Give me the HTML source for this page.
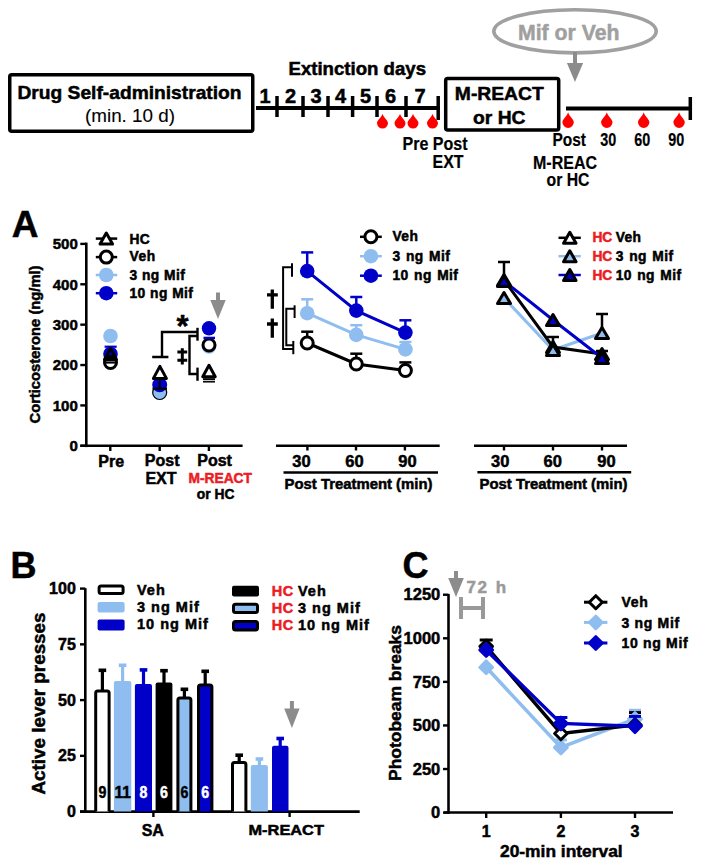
<!DOCTYPE html>
<html><head><meta charset="utf-8"><style>
html,body{margin:0;padding:0;background:#fff;width:701px;height:866px;overflow:hidden}
svg{display:block}
text{font-family:"Liberation Sans",sans-serif}
</style></head><body>
<svg width="701" height="866" viewBox="0 0 701 866">
<rect x="9.75" y="74.75" width="243" height="56.5" rx="2" fill="none" stroke="#000" stroke-width="3.5"/>
<text x="17.5" y="99" font-size="19" font-weight="bold" fill="#000" stroke="#000" stroke-width="0.5" text-anchor="start" textLength="224" lengthAdjust="spacingAndGlyphs" >Drug Self-administration</text>
<text x="85" y="122.4" font-size="18.7" font-weight="normal" fill="#000" stroke="#000" stroke-width="0.1" text-anchor="start" textLength="90" lengthAdjust="spacingAndGlyphs" >(min. 10 d)</text>
<text x="288.5" y="75" font-size="17.5" font-weight="bold" fill="#000" stroke="#000" stroke-width="0.5" text-anchor="start" textLength="137.5" lengthAdjust="spacingAndGlyphs" >Extinction days</text>
<line x1="256" y1="108" x2="440" y2="108" stroke="#000" stroke-width="4" stroke-linecap="butt"/>
<line x1="277" y1="96" x2="277" y2="117" stroke="#000" stroke-width="3.5" stroke-linecap="butt"/>
<line x1="303" y1="96" x2="303" y2="117" stroke="#000" stroke-width="3.5" stroke-linecap="butt"/>
<line x1="328" y1="96" x2="328" y2="117" stroke="#000" stroke-width="3.5" stroke-linecap="butt"/>
<line x1="352.6" y1="96" x2="352.6" y2="117" stroke="#000" stroke-width="3.5" stroke-linecap="butt"/>
<line x1="377" y1="96" x2="377" y2="117" stroke="#000" stroke-width="3.5" stroke-linecap="butt"/>
<line x1="406" y1="96" x2="406" y2="117" stroke="#000" stroke-width="3.5" stroke-linecap="butt"/>
<line x1="438.2" y1="96" x2="438.2" y2="120" stroke="#000" stroke-width="3.5" stroke-linecap="butt"/>
<text x="265" y="103.3" font-size="20" font-weight="bold" fill="#000" stroke="#000" stroke-width="0.5" text-anchor="middle" >1</text>
<text x="290.6" y="103.3" font-size="20" font-weight="bold" fill="#000" stroke="#000" stroke-width="0.5" text-anchor="middle" >2</text>
<text x="316" y="103.3" font-size="20" font-weight="bold" fill="#000" stroke="#000" stroke-width="0.5" text-anchor="middle" >3</text>
<text x="340.5" y="103.3" font-size="20" font-weight="bold" fill="#000" stroke="#000" stroke-width="0.5" text-anchor="middle" >4</text>
<text x="365.6" y="103.3" font-size="20" font-weight="bold" fill="#000" stroke="#000" stroke-width="0.5" text-anchor="middle" >5</text>
<text x="390.5" y="103.3" font-size="20" font-weight="bold" fill="#000" stroke="#000" stroke-width="0.5" text-anchor="middle" >6</text>
<text x="420" y="103.3" font-size="20" font-weight="bold" fill="#000" stroke="#000" stroke-width="0.5" text-anchor="middle" >7</text>
<path d="M382.5,113.7 C383.3,117.2 388.0,120.2 388.0,123.0 A5.5,5.5 0 0 1 377.0,123.0 C377.0,120.2 381.7,117.2 382.5,113.7 Z" fill="#ff0000"/>
<path d="M400,113.7 C400.8,117.2 405.5,120.2 405.5,123.0 A5.5,5.5 0 0 1 394.5,123.0 C394.5,120.2 399.2,117.2 400,113.7 Z" fill="#ff0000"/>
<path d="M413,113.7 C413.8,117.2 418.5,120.2 418.5,123.0 A5.5,5.5 0 0 1 407.5,123.0 C407.5,120.2 412.2,117.2 413,113.7 Z" fill="#ff0000"/>
<path d="M432.5,113.7 C433.3,117.2 438.0,120.2 438.0,123.0 A5.5,5.5 0 0 1 427.0,123.0 C427.0,120.2 431.7,117.2 432.5,113.7 Z" fill="#ff0000"/>
<text x="402.5" y="150" font-size="17.5" font-weight="bold" fill="#000" stroke="#000" stroke-width="0.2" text-anchor="start" textLength="65" lengthAdjust="spacingAndGlyphs" >Pre Post</text>
<text x="432.5" y="168" font-size="17.5" font-weight="bold" fill="#000" stroke="#000" stroke-width="0.2" text-anchor="start" textLength="31" lengthAdjust="spacingAndGlyphs" >EXT</text>
<rect x="445.7" y="78.5" width="113" height="51.5" rx="2" fill="none" stroke="#000" stroke-width="3.5"/>
<text x="454.8" y="100.3" font-size="19" font-weight="bold" fill="#000" stroke="#000" stroke-width="0.5" text-anchor="start" textLength="89" lengthAdjust="spacingAndGlyphs" >M-REACT</text>
<text x="473" y="123.8" font-size="19" font-weight="bold" fill="#000" stroke="#000" stroke-width="0.5" text-anchor="start" textLength="52.5" lengthAdjust="spacingAndGlyphs" >or HC</text>
<ellipse cx="575" cy="31.3" rx="81.2" ry="21.6" fill="none" stroke="#a0a0a0" stroke-width="3.6"/>
<text x="518" y="40" font-size="22" font-weight="bold" fill="#a0a0a0" stroke="#a0a0a0" stroke-width="0.5" text-anchor="start" textLength="101.5" lengthAdjust="spacingAndGlyphs" >Mif or Veh</text>
<rect x="573.0" y="52" width="4" height="11.5" fill="#8c8c8c"/>
<path d="M566.9,63 L583.1,63 L575,82 Z" fill="#8c8c8c"/>
<line x1="566" y1="108.5" x2="692" y2="108.5" stroke="#000" stroke-width="4" stroke-linecap="butt"/>
<line x1="690.3" y1="97" x2="690.3" y2="120" stroke="#000" stroke-width="3.5" stroke-linecap="butt"/>
<path d="M568.0999999999999,112.3 C568.8999999999999,115.8 573.8,119.4 573.8,122.2 A5.7,5.7 0 0 1 562.3999999999999,122.2 C562.3999999999999,119.4 567.3,115.8 568.0999999999999,112.3 Z" fill="#ff0000"/>
<path d="M606.8,112.3 C607.5999999999999,115.8 612.5,119.4 612.5,122.2 A5.7,5.7 0 0 1 601.0999999999999,122.2 C601.0999999999999,119.4 606.0,115.8 606.8,112.3 Z" fill="#ff0000"/>
<path d="M643.6999999999999,112.3 C644.4999999999999,115.8 649.4,119.4 649.4,122.2 A5.7,5.7 0 0 1 637.9999999999999,122.2 C637.9999999999999,119.4 642.9,115.8 643.6999999999999,112.3 Z" fill="#ff0000"/>
<path d="M679.0999999999999,112.3 C679.8999999999999,115.8 684.8,119.4 684.8,122.2 A5.7,5.7 0 0 1 673.3999999999999,122.2 C673.3999999999999,119.4 678.3,115.8 679.0999999999999,112.3 Z" fill="#ff0000"/>
<text x="552.5" y="146.3" font-size="17.5" font-weight="bold" fill="#000" stroke="#000" stroke-width="0.2" text-anchor="start" textLength="33.5" lengthAdjust="spacingAndGlyphs" >Post</text>
<text x="608.2" y="146.3" font-size="17.5" font-weight="bold" fill="#000" stroke="#000" stroke-width="0.2" text-anchor="middle" textLength="16" lengthAdjust="spacingAndGlyphs" >30</text>
<text x="642.2" y="146.3" font-size="17.5" font-weight="bold" fill="#000" stroke="#000" stroke-width="0.2" text-anchor="middle" textLength="16" lengthAdjust="spacingAndGlyphs" >60</text>
<text x="676.2" y="146.3" font-size="17.5" font-weight="bold" fill="#000" stroke="#000" stroke-width="0.2" text-anchor="middle" textLength="16" lengthAdjust="spacingAndGlyphs" >90</text>
<text x="533" y="169.1" font-size="17.5" font-weight="bold" fill="#000" stroke="#000" stroke-width="0.2" text-anchor="start" textLength="64" lengthAdjust="spacingAndGlyphs" >M-REAC</text>
<text x="546.5" y="185.6" font-size="17.5" font-weight="bold" fill="#000" stroke="#000" stroke-width="0.2" text-anchor="start" textLength="43" lengthAdjust="spacingAndGlyphs" >or HC</text>
<text x="11.8" y="237.4" font-size="37" font-weight="bold" fill="#000" stroke="#000" stroke-width="0.5" text-anchor="start" >A</text>
<line x1="86.3" y1="242.6" x2="86.3" y2="447.1" stroke="#000" stroke-width="2.6" stroke-linecap="butt"/>
<line x1="80.3" y1="445.8" x2="86.3" y2="445.8" stroke="#000" stroke-width="2.4" stroke-linecap="butt"/>
<text x="77.8" y="451.1" font-size="15" font-weight="bold" fill="#000" stroke="#000" stroke-width="0.5" text-anchor="end" >0</text>
<line x1="80.3" y1="405.42" x2="86.3" y2="405.42" stroke="#000" stroke-width="2.4" stroke-linecap="butt"/>
<text x="77.8" y="410.72" font-size="15" font-weight="bold" fill="#000" stroke="#000" stroke-width="0.5" text-anchor="end" >100</text>
<line x1="80.3" y1="365.04" x2="86.3" y2="365.04" stroke="#000" stroke-width="2.4" stroke-linecap="butt"/>
<text x="77.8" y="370.34000000000003" font-size="15" font-weight="bold" fill="#000" stroke="#000" stroke-width="0.5" text-anchor="end" >200</text>
<line x1="80.3" y1="324.66" x2="86.3" y2="324.66" stroke="#000" stroke-width="2.4" stroke-linecap="butt"/>
<text x="77.8" y="329.96000000000004" font-size="15" font-weight="bold" fill="#000" stroke="#000" stroke-width="0.5" text-anchor="end" >300</text>
<line x1="80.3" y1="284.28" x2="86.3" y2="284.28" stroke="#000" stroke-width="2.4" stroke-linecap="butt"/>
<text x="77.8" y="289.58" font-size="15" font-weight="bold" fill="#000" stroke="#000" stroke-width="0.5" text-anchor="end" >400</text>
<line x1="80.3" y1="243.9" x2="86.3" y2="243.9" stroke="#000" stroke-width="2.4" stroke-linecap="butt"/>
<text x="77.8" y="249.20000000000002" font-size="15" font-weight="bold" fill="#000" stroke="#000" stroke-width="0.5" text-anchor="end" >500</text>
<text x="40.3" y="423.5" font-size="14.7" font-weight="bold" fill="#000" stroke="#000" stroke-width="0.5" text-anchor="start" textLength="158" lengthAdjust="spacingAndGlyphs" transform="rotate(-90 40.3 423.5)">Corticosterone (ng/ml)</text>
<line x1="80.3" y1="445.8" x2="242.6" y2="445.8" stroke="#000" stroke-width="2.6" stroke-linecap="butt"/>
<line x1="110.3" y1="445.8" x2="110.3" y2="451" stroke="#000" stroke-width="2.4" stroke-linecap="butt"/>
<line x1="159.7" y1="445.8" x2="159.7" y2="451" stroke="#000" stroke-width="2.4" stroke-linecap="butt"/>
<line x1="208.9" y1="445.8" x2="208.9" y2="451" stroke="#000" stroke-width="2.4" stroke-linecap="butt"/>
<text x="111.2" y="466.7" font-size="16" font-weight="bold" fill="#000" stroke="#000" stroke-width="0.5" text-anchor="middle" >Pre</text>
<text x="162.2" y="466.2" font-size="16" font-weight="bold" fill="#000" stroke="#000" stroke-width="0.5" text-anchor="middle" >Post</text>
<text x="161" y="484.2" font-size="16" font-weight="bold" fill="#000" stroke="#000" stroke-width="0.5" text-anchor="middle" >EXT</text>
<text x="214.6" y="465.8" font-size="16" font-weight="bold" fill="#000" stroke="#000" stroke-width="0.5" text-anchor="middle" >Post</text>
<text x="220.2" y="482.8" font-size="13.8" font-weight="bold" fill="#ec1c24" stroke="#ec1c24" stroke-width="0.5" text-anchor="middle" >M-REACT</text>
<text x="215.6" y="498.5" font-size="13.8" font-weight="bold" fill="#000" stroke="#000" stroke-width="0.5" text-anchor="middle" >or HC</text>
<line x1="95.8" y1="238.6" x2="117.2" y2="238.6" stroke="#000" stroke-width="2.5" stroke-linecap="butt"/>
<path d="M106.3,233.1 L112.55,244.1 L100.05,244.1 Z" fill="#fff" stroke="#000" stroke-width="3" stroke-linejoin="round"/>
<text x="129.5" y="243.5" font-size="13.8" font-weight="bold" fill="#000" stroke="#000" stroke-width="0.5" letter-spacing="0.4" word-spacing="0.2">HC</text>
<line x1="95.8" y1="257.1" x2="117.2" y2="257.1" stroke="#000" stroke-width="2.5" stroke-linecap="butt"/>
<circle cx="106.3" cy="257.1" r="6" fill="#fff" stroke="#000" stroke-width="3"/>
<text x="129.5" y="261.4" font-size="13.8" font-weight="bold" fill="#000" stroke="#000" stroke-width="0.5" letter-spacing="0.55" word-spacing="1.2">Veh</text>
<line x1="95.8" y1="275" x2="117.2" y2="275" stroke="#8fbdf0" stroke-width="2.5" stroke-linecap="butt"/>
<circle cx="106.3" cy="275" r="7.3" fill="#8fbdf0"/>
<text x="129.5" y="279.7" font-size="13.8" font-weight="bold" fill="#000" stroke="#000" stroke-width="0.5" letter-spacing="0.4" word-spacing="0.2">3 ng Mif</text>
<line x1="95.8" y1="293.2" x2="117.2" y2="293.2" stroke="#0000c8" stroke-width="2.5" stroke-linecap="butt"/>
<circle cx="106.3" cy="293.2" r="7.3" fill="#0000c8"/>
<text x="129.5" y="297.6" font-size="13.8" font-weight="bold" fill="#000" stroke="#000" stroke-width="0.5" letter-spacing="0.4" word-spacing="0.2">10 ng Mif</text>
<circle cx="110.5" cy="336" r="7.3" fill="#8fbdf0"/>
<line x1="104.6" y1="346.7" x2="116.7" y2="346.7" stroke="#0000c8" stroke-width="2.2" stroke-linecap="butt"/>
<circle cx="110.5" cy="354" r="7.3" fill="#0000c8"/>
<circle cx="110.5" cy="362.5" r="6" fill="#fff" stroke="#000" stroke-width="3"/>
<line x1="104.6" y1="362.5" x2="116.7" y2="362.5" stroke="#000" stroke-width="2.2" stroke-linecap="butt"/>
<path d="M110.5,348.5 L116.5,359.5 L104.5,359.5 Z" fill="none" stroke="#000" stroke-width="3" stroke-linejoin="round"/>
<circle cx="159.7" cy="392.8" r="7.3" fill="#8fbdf0"/>
<circle cx="159.7" cy="392.5" r="7.0" fill="none" stroke="#000" stroke-width="1.2"/>
<circle cx="159.7" cy="384.7" r="7.5" fill="#0000c8"/>
<line x1="152.5" y1="388.7" x2="167" y2="388.7" stroke="#000" stroke-width="2.2" stroke-linecap="butt"/>
<line x1="159.7" y1="378" x2="159.7" y2="388.7" stroke="#000" stroke-width="2" stroke-linecap="butt"/>
<path d="M159.9,366.4 L166.4,378.4 L153.4,378.4 Z" fill="#fff" stroke="#000" stroke-width="3" stroke-linejoin="round"/>
<circle cx="209" cy="346.5" r="7.3" fill="#8fbdf0"/>
<circle cx="209" cy="345" r="6" fill="#fff" stroke="#000" stroke-width="3"/>
<line x1="203.5" y1="337.9" x2="215" y2="337.9" stroke="#0000c8" stroke-width="2.4" stroke-linecap="butt"/>
<circle cx="209" cy="328.3" r="7.2" fill="#0000c8"/>
<path d="M209,365.25 L215.25,376.75 L202.75,376.75 Z" fill="#fff" stroke="#000" stroke-width="3" stroke-linejoin="round"/>
<line x1="203" y1="379.2" x2="215" y2="379.2" stroke="#000" stroke-width="2" stroke-linecap="butt"/>
<line x1="203" y1="381.8" x2="215" y2="381.8" stroke="#000" stroke-width="1.5" stroke-linecap="butt"/>
<path d="M152.2,357 H168.4 M162,357 V332 H197.5" stroke="#000" stroke-width="2.4" fill="none" stroke-linejoin="miter"/>
<line x1="197.5" y1="327.8" x2="197.5" y2="340.7" stroke="#000" stroke-width="2.4" stroke-linecap="butt"/>
<path d="M197.5,336 H189.5 V374 H197.5" stroke="#000" stroke-width="2.4" fill="none" stroke-linejoin="miter"/>
<line x1="197.5" y1="367.6" x2="197.5" y2="380.8" stroke="#000" stroke-width="2.4" stroke-linecap="butt"/>
<text x="182.6" y="336.6" font-size="31" font-weight="bold" fill="#000" stroke="#000" stroke-width="0.5" text-anchor="middle" >*</text>
<path d="M182.3,348.2 V364.4 M177.4,352 H187.2 M177.4,360.3 H187.2" stroke="#000" stroke-width="3" fill="none" stroke-linejoin="miter"/>
<rect x="216.0" y="292.5" width="4" height="8.0" fill="#8c8c8c"/>
<path d="M210.3,300 L225.7,300 L218,319 Z" fill="#8c8c8c"/>
<line x1="276" y1="445.8" x2="439.7" y2="445.8" stroke="#000" stroke-width="2.6" stroke-linecap="butt"/>
<line x1="307.4" y1="445.8" x2="307.4" y2="450.5" stroke="#000" stroke-width="2.4" stroke-linecap="butt"/>
<text x="301.4" y="467" font-size="16.5" font-weight="bold" fill="#000" stroke="#000" stroke-width="0.5" text-anchor="middle" >30</text>
<line x1="356" y1="445.8" x2="356" y2="450.5" stroke="#000" stroke-width="2.4" stroke-linecap="butt"/>
<text x="354.4" y="467" font-size="16.5" font-weight="bold" fill="#000" stroke="#000" stroke-width="0.5" text-anchor="middle" >60</text>
<line x1="404.9" y1="445.8" x2="404.9" y2="450.5" stroke="#000" stroke-width="2.4" stroke-linecap="butt"/>
<text x="407.4" y="467" font-size="16.5" font-weight="bold" fill="#000" stroke="#000" stroke-width="0.5" text-anchor="middle" >90</text>
<line x1="283.5" y1="472.5" x2="438" y2="472.5" stroke="#000" stroke-width="2.4" stroke-linecap="butt"/>
<text x="284.5" y="489" font-size="14.7" font-weight="bold" fill="#000" stroke="#000" stroke-width="0.5" text-anchor="start" textLength="148" lengthAdjust="spacingAndGlyphs" >Post Treatment (min)</text>
<line x1="360" y1="236.8" x2="381.8" y2="236.8" stroke="#000" stroke-width="2.5" stroke-linecap="butt"/>
<circle cx="370.9" cy="236.8" r="6" fill="#fff" stroke="#000" stroke-width="3"/>
<text x="392.5" y="241.3" font-size="13.8" font-weight="bold" fill="#000" stroke="#000" stroke-width="0.5" letter-spacing="0.4" word-spacing="1.2">Veh</text>
<line x1="360" y1="256.2" x2="381.8" y2="256.2" stroke="#8fbdf0" stroke-width="2.5" stroke-linecap="butt"/>
<circle cx="370.9" cy="256.2" r="7.3" fill="#8fbdf0"/>
<text x="392.5" y="260.7" font-size="13.8" font-weight="bold" fill="#000" stroke="#000" stroke-width="0.5" letter-spacing="0.4" word-spacing="1.2">3 ng Mif</text>
<line x1="360" y1="275.7" x2="381.8" y2="275.7" stroke="#0000c8" stroke-width="2.5" stroke-linecap="butt"/>
<circle cx="370.9" cy="275.7" r="7.3" fill="#0000c8"/>
<text x="392.5" y="280.2" font-size="13.8" font-weight="bold" fill="#000" stroke="#000" stroke-width="0.5" letter-spacing="0.4" word-spacing="1.2">10 ng Mif</text>
<line x1="307.2" y1="343" x2="307.2" y2="331.7" stroke="#000" stroke-width="2.5" stroke-linecap="butt"/>
<line x1="301.2" y1="331.7" x2="313.2" y2="331.7" stroke="#000" stroke-width="2.5" stroke-linecap="butt"/>
<line x1="356.3" y1="364" x2="356.3" y2="353.7" stroke="#000" stroke-width="2.5" stroke-linecap="butt"/>
<line x1="350.3" y1="353.7" x2="362.3" y2="353.7" stroke="#000" stroke-width="2.5" stroke-linecap="butt"/>
<line x1="405.4" y1="370.5" x2="405.4" y2="362.4" stroke="#000" stroke-width="2.5" stroke-linecap="butt"/>
<line x1="399.4" y1="362.4" x2="411.4" y2="362.4" stroke="#000" stroke-width="2.5" stroke-linecap="butt"/>
<path d="M307.2,343 L356.3,364 L405.4,370.5" stroke="#000" stroke-width="3" fill="none" stroke-linejoin="miter"/>
<line x1="307.2" y1="313.2" x2="307.2" y2="299.3" stroke="#8fbdf0" stroke-width="2.5" stroke-linecap="butt"/>
<line x1="301.2" y1="299.3" x2="313.2" y2="299.3" stroke="#8fbdf0" stroke-width="2.5" stroke-linecap="butt"/>
<line x1="356.3" y1="334.9" x2="356.3" y2="325.2" stroke="#8fbdf0" stroke-width="2.5" stroke-linecap="butt"/>
<line x1="350.3" y1="325.2" x2="362.3" y2="325.2" stroke="#8fbdf0" stroke-width="2.5" stroke-linecap="butt"/>
<line x1="405.4" y1="349.4" x2="405.4" y2="342" stroke="#8fbdf0" stroke-width="2.5" stroke-linecap="butt"/>
<line x1="399.4" y1="342" x2="411.4" y2="342" stroke="#8fbdf0" stroke-width="2.5" stroke-linecap="butt"/>
<path d="M307.2,313.2 L356.3,334.9 L405.4,349.4" stroke="#8fbdf0" stroke-width="3" fill="none" stroke-linejoin="miter"/>
<line x1="307.2" y1="271.1" x2="307.2" y2="252.4" stroke="#0000c8" stroke-width="2.5" stroke-linecap="butt"/>
<line x1="301.2" y1="252.4" x2="313.2" y2="252.4" stroke="#0000c8" stroke-width="2.5" stroke-linecap="butt"/>
<line x1="356.3" y1="310.6" x2="356.3" y2="297" stroke="#0000c8" stroke-width="2.5" stroke-linecap="butt"/>
<line x1="350.3" y1="297" x2="362.3" y2="297" stroke="#0000c8" stroke-width="2.5" stroke-linecap="butt"/>
<line x1="405.4" y1="332.6" x2="405.4" y2="320.3" stroke="#0000c8" stroke-width="2.5" stroke-linecap="butt"/>
<line x1="399.4" y1="320.3" x2="411.4" y2="320.3" stroke="#0000c8" stroke-width="2.5" stroke-linecap="butt"/>
<path d="M307.2,271.1 L356.3,310.6 L405.4,332.6" stroke="#0000c8" stroke-width="3" fill="none" stroke-linejoin="miter"/>
<circle cx="307.2" cy="343" r="6" fill="#fff" stroke="#000" stroke-width="3"/>
<circle cx="356.3" cy="364" r="6" fill="#fff" stroke="#000" stroke-width="3"/>
<circle cx="405.4" cy="370.5" r="6" fill="#fff" stroke="#000" stroke-width="3"/>
<circle cx="307.2" cy="313.2" r="7.3" fill="#8fbdf0"/>
<circle cx="356.3" cy="334.9" r="7.3" fill="#8fbdf0"/>
<circle cx="405.4" cy="349.4" r="7.3" fill="#8fbdf0"/>
<circle cx="307.2" cy="271.1" r="7.3" fill="#0000c8"/>
<circle cx="356.3" cy="310.6" r="7.3" fill="#0000c8"/>
<circle cx="405.4" cy="332.6" r="7.3" fill="#0000c8"/>
<path d="M292,267.2 H283.1 V349.1 H293.3" stroke="#000" stroke-width="2" fill="none" stroke-linejoin="miter"/>
<line x1="292" y1="263.3" x2="292" y2="276.7" stroke="#000" stroke-width="2" stroke-linecap="butt"/>
<path d="M294.6,308.7 H286.3 V345.3 H293.3" stroke="#000" stroke-width="2" fill="none" stroke-linejoin="miter"/>
<line x1="294.6" y1="305.3" x2="294.6" y2="318" stroke="#000" stroke-width="2" stroke-linecap="butt"/>
<line x1="293.3" y1="340.9" x2="293.3" y2="354.2" stroke="#000" stroke-width="2" stroke-linecap="butt"/>
<path d="M272.3,289.4 V308.7 M267,294.8 H277.8" stroke="#000" stroke-width="3.3" fill="none" stroke-linejoin="miter"/>
<path d="M272.3,318.6 V337.7 M267,324 H277.8" stroke="#000" stroke-width="3.3" fill="none" stroke-linejoin="miter"/>
<line x1="474" y1="445.8" x2="627" y2="445.8" stroke="#000" stroke-width="2.6" stroke-linecap="butt"/>
<line x1="504" y1="445.8" x2="504" y2="450.5" stroke="#000" stroke-width="2.4" stroke-linecap="butt"/>
<text x="500.3" y="467" font-size="16.5" font-weight="bold" fill="#000" stroke="#000" stroke-width="0.5" text-anchor="middle" >30</text>
<line x1="553" y1="445.8" x2="553" y2="450.5" stroke="#000" stroke-width="2.4" stroke-linecap="butt"/>
<text x="552.8" y="467" font-size="16.5" font-weight="bold" fill="#000" stroke="#000" stroke-width="0.5" text-anchor="middle" >60</text>
<line x1="602" y1="445.8" x2="602" y2="450.5" stroke="#000" stroke-width="2.4" stroke-linecap="butt"/>
<text x="606.4" y="467" font-size="16.5" font-weight="bold" fill="#000" stroke="#000" stroke-width="0.5" text-anchor="middle" >90</text>
<line x1="477.4" y1="472.3" x2="631.2" y2="472.3" stroke="#000" stroke-width="2.4" stroke-linecap="butt"/>
<text x="479.5" y="489" font-size="14.7" font-weight="bold" fill="#000" stroke="#000" stroke-width="0.5" text-anchor="start" textLength="148" lengthAdjust="spacingAndGlyphs" >Post Treatment (min)</text>
<line x1="558.5" y1="237.8" x2="580.8" y2="237.8" stroke="#000" stroke-width="2.5" stroke-linecap="butt"/>
<path d="M569.8,232.3 L576.05,243.3 L563.55,243.3 Z" fill="#fff" stroke="#000" stroke-width="3" stroke-linejoin="round"/>
<text x="592.4" y="242.3" font-size="13.8" font-weight="bold" fill="#ec1c24" stroke="#ec1c24" stroke-width="0.5" letter-spacing="0" word-spacing="1.2">HC</text>
<text x="615.7" y="242.3" font-size="13.8" font-weight="bold" fill="#000" stroke="#000" stroke-width="0.5" letter-spacing="0.4" word-spacing="1.2">Veh</text>
<line x1="558.5" y1="256.2" x2="580.8" y2="256.2" stroke="#8fbdf0" stroke-width="2.5" stroke-linecap="butt"/>
<path d="M569.8,250.7 L576.05,261.7 L563.55,261.7 Z" fill="#8fbdf0" stroke="#000" stroke-width="3" stroke-linejoin="round"/>
<text x="592.4" y="260.7" font-size="13.8" font-weight="bold" fill="#ec1c24" stroke="#ec1c24" stroke-width="0.5" letter-spacing="0" word-spacing="1.2">HC</text>
<text x="615.7" y="260.7" font-size="13.8" font-weight="bold" fill="#000" stroke="#000" stroke-width="0.5" letter-spacing="0.4" word-spacing="1.2">3 ng Mif</text>
<line x1="558.5" y1="275" x2="580.8" y2="275" stroke="#0000c8" stroke-width="2.5" stroke-linecap="butt"/>
<path d="M569.8,269.5 L576.05,280.5 L563.55,280.5 Z" fill="#0000c8" stroke="#000" stroke-width="3" stroke-linejoin="round"/>
<text x="592.4" y="279.5" font-size="13.8" font-weight="bold" fill="#ec1c24" stroke="#ec1c24" stroke-width="0.5" letter-spacing="0" word-spacing="1.2">HC</text>
<text x="615.7" y="279.5" font-size="13.8" font-weight="bold" fill="#000" stroke="#000" stroke-width="0.5" letter-spacing="0.4" word-spacing="1.2">10 ng Mif</text>
<line x1="504" y1="280" x2="504" y2="262" stroke="#000" stroke-width="2.5" stroke-linecap="butt"/>
<line x1="498.0" y1="262" x2="510.0" y2="262" stroke="#000" stroke-width="2.5" stroke-linecap="butt"/>
<line x1="553" y1="347" x2="553" y2="337" stroke="#000" stroke-width="2.5" stroke-linecap="butt"/>
<line x1="547.0" y1="337" x2="559.0" y2="337" stroke="#000" stroke-width="2.5" stroke-linecap="butt"/>
<line x1="602" y1="333" x2="602" y2="314" stroke="#000" stroke-width="2.5" stroke-linecap="butt"/>
<line x1="596.0" y1="314" x2="608.0" y2="314" stroke="#000" stroke-width="2.5" stroke-linecap="butt"/>
<line x1="602" y1="354" x2="602" y2="351" stroke="#000" stroke-width="2.5" stroke-linecap="butt"/>
<line x1="596.0" y1="351" x2="608.0" y2="351" stroke="#000" stroke-width="2.5" stroke-linecap="butt"/>
<path d="M504,298 L553,350 L602,333" stroke="#8fbdf0" stroke-width="3" fill="none" stroke-linejoin="miter"/>
<path d="M504,280 L553,347 L602,354" stroke="#000" stroke-width="3" fill="none" stroke-linejoin="miter"/>
<path d="M504,281 L553,320 L602,358" stroke="#0000c8" stroke-width="3" fill="none" stroke-linejoin="miter"/>
<path d="M504,274.5 L510.5,285.5 L497.5,285.5 Z" fill="#fff" stroke="#000" stroke-width="3" stroke-linejoin="round"/>
<path d="M553,341.5 L559.5,352.5 L546.5,352.5 Z" fill="#fff" stroke="#000" stroke-width="3" stroke-linejoin="round"/>
<path d="M602,348.5 L608.5,359.5 L595.5,359.5 Z" fill="#fff" stroke="#000" stroke-width="3" stroke-linejoin="round"/>
<path d="M504,292.5 L510.5,303.5 L497.5,303.5 Z" fill="#8fbdf0" stroke="#000" stroke-width="3" stroke-linejoin="round"/>
<path d="M553,344.5 L559.5,355.5 L546.5,355.5 Z" fill="#8fbdf0" stroke="#000" stroke-width="3" stroke-linejoin="round"/>
<path d="M602,327.5 L608.5,338.5 L595.5,338.5 Z" fill="#8fbdf0" stroke="#000" stroke-width="3" stroke-linejoin="round"/>
<path d="M504,275.5 L510.5,286.5 L497.5,286.5 Z" fill="#0000c8" stroke="#000" stroke-width="3" stroke-linejoin="round"/>
<path d="M553,314.5 L559.5,325.5 L546.5,325.5 Z" fill="#0000c8" stroke="#000" stroke-width="3" stroke-linejoin="round"/>
<path d="M602,352.5 L608.5,363.5 L595.5,363.5 Z" fill="#0000c8" stroke="#000" stroke-width="3" stroke-linejoin="round"/>
<text x="10.5" y="577.5" font-size="36" font-weight="bold" fill="#000" stroke="#000" stroke-width="0.5" text-anchor="start" >B</text>
<line x1="85.3" y1="588.2" x2="85.3" y2="812.9" stroke="#000" stroke-width="2.6" stroke-linecap="butt"/>
<line x1="80" y1="811.6" x2="85.3" y2="811.6" stroke="#000" stroke-width="2.4" stroke-linecap="butt"/>
<text x="75.8" y="817.0" font-size="16" font-weight="bold" fill="#000" stroke="#000" stroke-width="0.5" text-anchor="end" >0</text>
<line x1="80" y1="755.85" x2="85.3" y2="755.85" stroke="#000" stroke-width="2.4" stroke-linecap="butt"/>
<text x="75.8" y="761.25" font-size="16" font-weight="bold" fill="#000" stroke="#000" stroke-width="0.5" text-anchor="end" >25</text>
<line x1="80" y1="700.1" x2="85.3" y2="700.1" stroke="#000" stroke-width="2.4" stroke-linecap="butt"/>
<text x="75.8" y="705.5" font-size="16" font-weight="bold" fill="#000" stroke="#000" stroke-width="0.5" text-anchor="end" >50</text>
<line x1="80" y1="644.35" x2="85.3" y2="644.35" stroke="#000" stroke-width="2.4" stroke-linecap="butt"/>
<text x="75.8" y="649.75" font-size="16" font-weight="bold" fill="#000" stroke="#000" stroke-width="0.5" text-anchor="end" >75</text>
<line x1="80" y1="588.6" x2="85.3" y2="588.6" stroke="#000" stroke-width="2.4" stroke-linecap="butt"/>
<text x="75.8" y="594.0" font-size="16" font-weight="bold" fill="#000" stroke="#000" stroke-width="0.5" text-anchor="end" >100</text>
<text x="45" y="794.5" font-size="18.5" font-weight="bold" fill="#000" stroke="#000" stroke-width="0.5" text-anchor="start" textLength="182" lengthAdjust="spacingAndGlyphs" transform="rotate(-90 45 794.5)">Active lever presses</text>
<line x1="80" y1="811.6" x2="359.7" y2="811.6" stroke="#000" stroke-width="2.6" stroke-linecap="butt"/>
<line x1="153.4" y1="811.6" x2="153.4" y2="817" stroke="#000" stroke-width="2.4" stroke-linecap="butt"/>
<line x1="289.6" y1="811.6" x2="289.6" y2="817" stroke="#000" stroke-width="2.4" stroke-linecap="butt"/>
<text x="152.8" y="835.5" font-size="16" font-weight="bold" fill="#000" stroke="#000" stroke-width="0.5" text-anchor="middle" >SA</text>
<text x="286.2" y="835.2" font-size="15" font-weight="bold" fill="#000" stroke="#000" stroke-width="0.5" text-anchor="middle" textLength="75.4" lengthAdjust="spacingAndGlyphs" >M-REACT</text>
<line x1="102.4" y1="690.6" x2="102.4" y2="670" stroke="#000" stroke-width="3.2" stroke-linecap="butt"/>
<line x1="98.60000000000001" y1="670.3" x2="106.2" y2="670.3" stroke="#000" stroke-width="3.6" stroke-linecap="butt"/>
<path d="M95.7,811.6 V693.1 Q95.7,691.1 97.7,691.1 H107.1 Q109.1,691.1 109.1,693.1 V811.6" fill="#fff" stroke="#000" stroke-width="3"/>
<line x1="122.6" y1="682" x2="122.6" y2="665" stroke="#8fbdf0" stroke-width="3.2" stroke-linecap="butt"/>
<line x1="118.8" y1="665.3" x2="126.39999999999999" y2="665.3" stroke="#8fbdf0" stroke-width="3.6" stroke-linecap="butt"/>
<path d="M113.9,811.6 V683 Q113.9,681 115.9,681 H129.3 Q131.3,681 131.3,683 V811.6 Z" fill="#8fbdf0"/>
<line x1="143.5" y1="685" x2="143.5" y2="669.6" stroke="#0000c8" stroke-width="3.2" stroke-linecap="butt"/>
<line x1="139.7" y1="669.9" x2="147.3" y2="669.9" stroke="#0000c8" stroke-width="3.6" stroke-linecap="butt"/>
<path d="M134.9,811.6 V686 Q134.9,684 136.9,684 H150 Q152,684 152,686 V811.6 Z" fill="#0000c8"/>
<line x1="164" y1="683.6" x2="164" y2="670.4" stroke="#000" stroke-width="3.2" stroke-linecap="butt"/>
<line x1="160.2" y1="670.6999999999999" x2="167.8" y2="670.6999999999999" stroke="#000" stroke-width="3.6" stroke-linecap="butt"/>
<path d="M155.6,811.6 V684.6 Q155.6,682.6 157.6,682.6 H170.4 Q172.4,682.6 172.4,684.6 V811.6 Z" fill="#000"/>
<line x1="184.4" y1="697.6" x2="184.4" y2="689" stroke="#000" stroke-width="3.2" stroke-linecap="butt"/>
<line x1="180.6" y1="689.3" x2="188.20000000000002" y2="689.3" stroke="#000" stroke-width="3.6" stroke-linecap="butt"/>
<path d="M177.9,811.6 V700.1 Q177.9,698.1 179.9,698.1 H188.9 Q190.9,698.1 190.9,700.1 V811.6" fill="#8fbdf0" stroke="#000" stroke-width="3"/>
<line x1="205.2" y1="684.6" x2="205.2" y2="671" stroke="#000" stroke-width="3.2" stroke-linecap="butt"/>
<line x1="201.39999999999998" y1="671.3" x2="209.0" y2="671.3" stroke="#000" stroke-width="3.6" stroke-linecap="butt"/>
<path d="M198.5,811.6 V687.1 Q198.5,685.1 200.5,685.1 H209.9 Q211.9,685.1 211.9,687.1 V811.6" fill="#0000c8" stroke="#000" stroke-width="3"/>
<text x="102.4" y="798" font-size="17" font-weight="bold" fill="#000" stroke="#000" stroke-width="0.5" text-anchor="middle" textLength="7.9" lengthAdjust="spacingAndGlyphs" >9</text>
<text x="122.6" y="798" font-size="17" font-weight="bold" fill="#000" stroke="#000" stroke-width="0.5" text-anchor="middle" textLength="16.3" lengthAdjust="spacingAndGlyphs" >11</text>
<text x="143.5" y="798" font-size="17" font-weight="bold" fill="#fff" stroke="#fff" stroke-width="0.5" text-anchor="middle" textLength="7.9" lengthAdjust="spacingAndGlyphs" >8</text>
<text x="164" y="798" font-size="17" font-weight="bold" fill="#fff" stroke="#fff" stroke-width="0.5" text-anchor="middle" textLength="7.9" lengthAdjust="spacingAndGlyphs" >6</text>
<text x="184.4" y="798" font-size="17" font-weight="bold" fill="#000" stroke="#000" stroke-width="0.5" text-anchor="middle" textLength="7.9" lengthAdjust="spacingAndGlyphs" >6</text>
<text x="205.2" y="798" font-size="17" font-weight="bold" fill="#fff" stroke="#fff" stroke-width="0.5" text-anchor="middle" textLength="7.9" lengthAdjust="spacingAndGlyphs" >6</text>
<line x1="239.2" y1="762" x2="239.2" y2="754.9" stroke="#000" stroke-width="3.2" stroke-linecap="butt"/>
<line x1="235.39999999999998" y1="755.1999999999999" x2="243.0" y2="755.1999999999999" stroke="#000" stroke-width="3.6" stroke-linecap="butt"/>
<path d="M232.5,811.6 V764.5 Q232.5,762.5 234.5,762.5 H243.9 Q245.9,762.5 245.9,764.5 V811.6" fill="#fff" stroke="#000" stroke-width="3"/>
<line x1="259.4" y1="765.9" x2="259.4" y2="758.7" stroke="#8fbdf0" stroke-width="3.2" stroke-linecap="butt"/>
<line x1="255.59999999999997" y1="759.0" x2="263.2" y2="759.0" stroke="#8fbdf0" stroke-width="3.6" stroke-linecap="butt"/>
<path d="M250.8,811.6 V766.9 Q250.8,764.9 252.8,764.9 H265.9 Q267.9,764.9 267.9,766.9 V811.6 Z" fill="#8fbdf0"/>
<line x1="280.2" y1="746.7" x2="280.2" y2="738.2" stroke="#0000c8" stroke-width="3.2" stroke-linecap="butt"/>
<line x1="276.4" y1="738.5" x2="284.0" y2="738.5" stroke="#0000c8" stroke-width="3.6" stroke-linecap="butt"/>
<path d="M272,811.6 V747.7 Q272,745.7 274,745.7 H286.5 Q288.5,745.7 288.5,747.7 V811.6 Z" fill="#0000c8"/>
<rect x="289.9" y="701" width="4" height="8.0" fill="#8c8c8c"/>
<path d="M284.2,708.5 L299.59999999999997,708.5 L291.9,727.9 Z" fill="#8c8c8c"/>
<rect x="99.1" y="586.1" width="24" height="7.4" rx="2" fill="#fff" stroke="#000" stroke-width="3"/>
<rect x="97.6" y="602" width="27" height="10.6" rx="2" fill="#8fbdf0"/>
<rect x="97.6" y="619.4" width="27" height="11.2" rx="2" fill="#0000c8"/>
<text x="137" y="595" font-size="14.5" font-weight="bold" fill="#000" stroke="#000" stroke-width="0.5" letter-spacing="1" word-spacing="0">Veh</text>
<text x="137" y="612.2" font-size="14.5" font-weight="bold" fill="#000" stroke="#000" stroke-width="0.5" letter-spacing="1" word-spacing="0">3 ng Mif</text>
<text x="137" y="629.4" font-size="14.5" font-weight="bold" fill="#000" stroke="#000" stroke-width="0.5" letter-spacing="1" word-spacing="0">10 ng Mif</text>
<rect x="232" y="585.7" width="27" height="10.7" rx="2" fill="#000"/>
<rect x="233.5" y="604.3" width="24" height="8.2" rx="2" fill="#8fbdf0" stroke="#000" stroke-width="3"/>
<rect x="233.5" y="621.5" width="24" height="8.5" rx="2" fill="#0000c8" stroke="#000" stroke-width="3"/>
<text x="271.7" y="596" font-size="14.5" font-weight="bold" fill="#ec1c24" stroke="#ec1c24" stroke-width="0.5" letter-spacing="0.5" word-spacing="0">HC</text>
<text x="298" y="596" font-size="14.5" font-weight="bold" fill="#000" stroke="#000" stroke-width="0.5" letter-spacing="1" word-spacing="0">Veh</text>
<text x="271.7" y="613.2" font-size="14.5" font-weight="bold" fill="#ec1c24" stroke="#ec1c24" stroke-width="0.5" letter-spacing="0.5" word-spacing="0">HC</text>
<text x="298" y="613.2" font-size="14.5" font-weight="bold" fill="#000" stroke="#000" stroke-width="0.5" letter-spacing="1" word-spacing="0">3 ng Mif</text>
<text x="271.7" y="630.4" font-size="14.5" font-weight="bold" fill="#ec1c24" stroke="#ec1c24" stroke-width="0.5" letter-spacing="0.5" word-spacing="0">HC</text>
<text x="298" y="630.4" font-size="14.5" font-weight="bold" fill="#000" stroke="#000" stroke-width="0.5" letter-spacing="1" word-spacing="0">10 ng Mif</text>
<text x="402.6" y="577.5" font-size="36" font-weight="bold" fill="#000" stroke="#000" stroke-width="0.5" text-anchor="start" >C</text>
<line x1="448.5" y1="594" x2="448.5" y2="813.8" stroke="#000" stroke-width="2.6" stroke-linecap="butt"/>
<line x1="443" y1="812.6" x2="448.5" y2="812.6" stroke="#000" stroke-width="2.4" stroke-linecap="butt"/>
<text x="440.3" y="818.3000000000001" font-size="16.5" font-weight="bold" fill="#000" stroke="#000" stroke-width="0.5" text-anchor="end" >0</text>
<line x1="443" y1="769.025" x2="448.5" y2="769.025" stroke="#000" stroke-width="2.4" stroke-linecap="butt"/>
<text x="440.3" y="774.725" font-size="16.5" font-weight="bold" fill="#000" stroke="#000" stroke-width="0.5" text-anchor="end" >250</text>
<line x1="443" y1="725.45" x2="448.5" y2="725.45" stroke="#000" stroke-width="2.4" stroke-linecap="butt"/>
<text x="440.3" y="731.1500000000001" font-size="16.5" font-weight="bold" fill="#000" stroke="#000" stroke-width="0.5" text-anchor="end" >500</text>
<line x1="443" y1="681.875" x2="448.5" y2="681.875" stroke="#000" stroke-width="2.4" stroke-linecap="butt"/>
<text x="440.3" y="687.575" font-size="16.5" font-weight="bold" fill="#000" stroke="#000" stroke-width="0.5" text-anchor="end" >750</text>
<line x1="443" y1="638.3" x2="448.5" y2="638.3" stroke="#000" stroke-width="2.4" stroke-linecap="butt"/>
<text x="440.3" y="644.0" font-size="16.5" font-weight="bold" fill="#000" stroke="#000" stroke-width="0.5" text-anchor="end" >1000</text>
<line x1="443" y1="594.725" x2="448.5" y2="594.725" stroke="#000" stroke-width="2.4" stroke-linecap="butt"/>
<text x="440.3" y="600.4250000000001" font-size="16.5" font-weight="bold" fill="#000" stroke="#000" stroke-width="0.5" text-anchor="end" >1250</text>
<text x="400.8" y="781" font-size="17.4" font-weight="bold" fill="#000" stroke="#000" stroke-width="0.5" text-anchor="start" textLength="156" lengthAdjust="spacingAndGlyphs" transform="rotate(-90 400.8 781)">Photobeam breaks</text>
<line x1="444" y1="812.5" x2="673" y2="812.5" stroke="#000" stroke-width="2.6" stroke-linecap="butt"/>
<line x1="486.2" y1="812.5" x2="486.2" y2="818" stroke="#000" stroke-width="2.4" stroke-linecap="butt"/>
<text x="486.2" y="836.5" font-size="16" font-weight="bold" fill="#000" stroke="#000" stroke-width="0.5" text-anchor="middle" >1</text>
<line x1="560.9" y1="812.5" x2="560.9" y2="818" stroke="#000" stroke-width="2.4" stroke-linecap="butt"/>
<text x="560.9" y="836.5" font-size="16" font-weight="bold" fill="#000" stroke="#000" stroke-width="0.5" text-anchor="middle" >2</text>
<line x1="635" y1="812.5" x2="635" y2="818" stroke="#000" stroke-width="2.4" stroke-linecap="butt"/>
<text x="635" y="836.5" font-size="16" font-weight="bold" fill="#000" stroke="#000" stroke-width="0.5" text-anchor="middle" >3</text>
<text x="500" y="857" font-size="17" font-weight="bold" fill="#000" stroke="#000" stroke-width="0.5" text-anchor="start" textLength="122.7" lengthAdjust="spacingAndGlyphs" >20-min interval</text>
<rect x="454.0" y="571" width="4" height="7.5" fill="#8c8c8c"/>
<path d="M448.2,578 L463.8,578 L456,597 Z" fill="#8c8c8c"/>
<text x="466.5" y="593" font-size="17" font-weight="bold" fill="#999999" stroke="#999999" stroke-width="0.5" letter-spacing="1.5" word-spacing="1.2">72 h</text>
<path d="M461,597 V619 M483,597 V619 M461,608 H483" stroke="#999" stroke-width="4" fill="none" stroke-linejoin="miter"/>
<line x1="584" y1="602.2" x2="607.4" y2="602.2" stroke="#000" stroke-width="3" stroke-linecap="butt"/>
<path d="M595.8,595.7 L602.3,602.2 L595.8,608.7 L589.3,602.2 Z" fill="#fff" stroke="#000" stroke-width="3" stroke-linejoin="round"/>
<text x="621.4" y="606.5" font-size="14" font-weight="bold" fill="#000" stroke="#000" stroke-width="0.5" letter-spacing="0.7" word-spacing="0">Veh</text>
<line x1="584" y1="622.4" x2="607.4" y2="622.4" stroke="#8fbdf0" stroke-width="3" stroke-linecap="butt"/>
<path d="M595.8,615.8 L602.4,622.4 L595.8,629.0 L589.1999999999999,622.4 Z" fill="#8fbdf0" stroke="#8fbdf0" stroke-width="2.6" stroke-linejoin="round"/>
<text x="621.4" y="627.6" font-size="14" font-weight="bold" fill="#000" stroke="#000" stroke-width="0.5" letter-spacing="0.7" word-spacing="0">3 ng Mif</text>
<line x1="584" y1="643" x2="607.4" y2="643" stroke="#0000c8" stroke-width="3" stroke-linecap="butt"/>
<path d="M595.8,636.4 L602.4,643 L595.8,649.6 L589.1999999999999,643 Z" fill="#0000c8" stroke="#0000c8" stroke-width="2.6" stroke-linejoin="round"/>
<text x="621.4" y="647.6" font-size="14" font-weight="bold" fill="#000" stroke="#000" stroke-width="0.5" letter-spacing="0.7" word-spacing="0">10 ng Mif</text>
<line x1="486.2" y1="646" x2="486.2" y2="640" stroke="#000" stroke-width="3" stroke-linecap="butt"/>
<line x1="479.7" y1="640" x2="492.7" y2="640" stroke="#000" stroke-width="3" stroke-linecap="butt"/>
<line x1="560.9" y1="747.5" x2="560.9" y2="740" stroke="#8fbdf0" stroke-width="3" stroke-linecap="butt"/>
<line x1="554.9" y1="740" x2="566.9" y2="740" stroke="#8fbdf0" stroke-width="3" stroke-linecap="butt"/>
<line x1="560.9" y1="723.4" x2="560.9" y2="717.5" stroke="#0000c8" stroke-width="3" stroke-linecap="butt"/>
<line x1="554.4" y1="717.5" x2="567.4" y2="717.5" stroke="#0000c8" stroke-width="3" stroke-linecap="butt"/>
<line x1="635" y1="719" x2="635" y2="710.3" stroke="#8fbdf0" stroke-width="3" stroke-linecap="butt"/>
<line x1="629.0" y1="710.3" x2="641.0" y2="710.3" stroke="#8fbdf0" stroke-width="3" stroke-linecap="butt"/>
<line x1="635" y1="725" x2="635" y2="712.6" stroke="#000" stroke-width="3" stroke-linecap="butt"/>
<line x1="629.0" y1="712.6" x2="641.0" y2="712.6" stroke="#000" stroke-width="3" stroke-linecap="butt"/>
<path d="M486.2,667.3 L560.9,747.5 L635,719" stroke="#8fbdf0" stroke-width="3.5" fill="none" stroke-linejoin="miter"/>
<path d="M486.2,646.4 L560.9,733.5 L635,725" stroke="#000" stroke-width="3.5" fill="none" stroke-linejoin="miter"/>
<path d="M486.2,650 L560.9,723.4 L635,726.2" stroke="#0000c8" stroke-width="3.5" fill="none" stroke-linejoin="miter"/>
<path d="M486.2,660.6999999999999 L492.8,667.3 L486.2,673.9 L479.59999999999997,667.3 Z" fill="#8fbdf0" stroke="#8fbdf0" stroke-width="2.6" stroke-linejoin="round"/>
<path d="M560.9,740.9 L567.5,747.5 L560.9,754.1 L554.3,747.5 Z" fill="#8fbdf0" stroke="#8fbdf0" stroke-width="2.6" stroke-linejoin="round"/>
<path d="M635,712.4 L641.6,719 L635,725.6 L628.4,719 Z" fill="#8fbdf0" stroke="#8fbdf0" stroke-width="2.6" stroke-linejoin="round"/>
<path d="M486.2,640.1 L492.5,646.4 L486.2,652.6999999999999 L479.9,646.4 Z" fill="#fff" stroke="#000" stroke-width="3" stroke-linejoin="round"/>
<path d="M560.9,727.2 L567.1999999999999,733.5 L560.9,739.8 L554.6,733.5 Z" fill="#fff" stroke="#000" stroke-width="3" stroke-linejoin="round"/>
<path d="M635,718.7 L641.3,725 L635,731.3 L628.7,725 Z" fill="#fff" stroke="#000" stroke-width="3" stroke-linejoin="round"/>
<path d="M486.2,643.4 L492.8,650 L486.2,656.6 L479.59999999999997,650 Z" fill="#0000c8" stroke="#0000c8" stroke-width="2.6" stroke-linejoin="round"/>
<path d="M560.9,716.8 L567.5,723.4 L560.9,730.0 L554.3,723.4 Z" fill="#0000c8" stroke="#0000c8" stroke-width="2.6" stroke-linejoin="round"/>
<path d="M635,719.6 L641.6,726.2 L635,732.8000000000001 L628.4,726.2 Z" fill="#0000c8" stroke="#0000c8" stroke-width="2.6" stroke-linejoin="round"/>
<line x1="635" y1="726" x2="635" y2="716.4" stroke="#0000c8" stroke-width="3" stroke-linecap="butt"/>
<line x1="629.0" y1="716.4" x2="641.0" y2="716.4" stroke="#0000c8" stroke-width="3" stroke-linecap="butt"/>
</svg>
</body></html>
